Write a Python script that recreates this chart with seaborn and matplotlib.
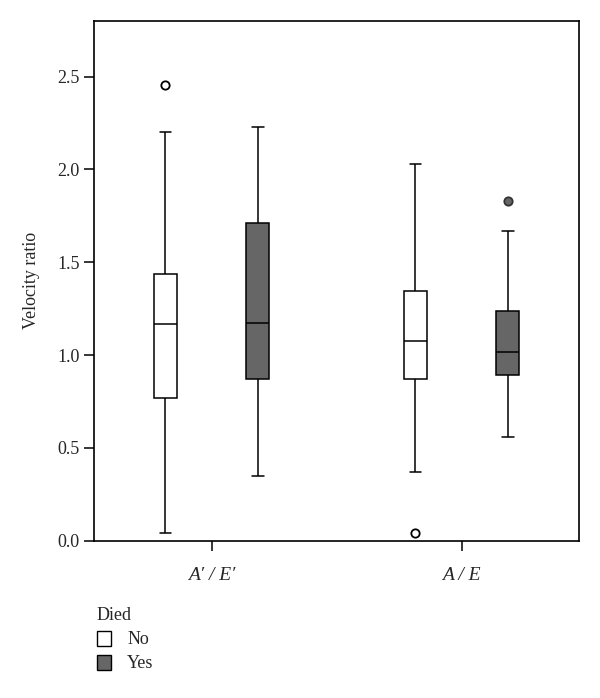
import numpy as np
import pandas as pd
import matplotlib
matplotlib.use("Agg")
import matplotlib.pyplot as plt
import seaborn as sns
from matplotlib.patches import Patch

# values (box summaries per group)
ratios = ["A\u2032/E\u2032", "A\u2032/E\u2032", "A/E", "A/E"]
died = ["No", "Yes", "No", "Yes"]
whis_lo = [0.04, 0.35, 0.37, 0.56]
q1 = [0.77, 0.87, 0.87, 0.89]
median = [1.165, 1.175, 1.075, 1.015]
q3 = [1.435, 1.71, 1.345, 1.235]
whis_hi = [2.20, 2.23, 2.03, 1.67]
outliers = [[2.455], [], [0.04], [1.83]]

# 9 values per group so the quartiles land on the read values exactly
rows = []
for i in range(4):
    vals = [whis_lo[i], q1[i], q1[i], median[i], median[i], q3[i], q3[i], whis_hi[i], whis_hi[i]]
    for o in outliers[i]:
        if o > whis_hi[i]:
            vals[-1] = o
        else:
            vals[0] = o
            vals[1] = whis_lo[i]
    for v in vals:
        rows.append({"ratio": ratios[i], "Died": died[i], "value": v})
df = pd.DataFrame(rows)

sns.set_style("white")
plt.rcParams["font.family"] = ["Liberation Serif", "DejaVu Serif"]

fig = plt.figure(figsize=(6, 6.98), dpi=100)
ax = fig.add_axes([0.157, 0.2254, 0.808, 0.7446])

pal = {"No": "white", "Yes": "#666666"}
sns.boxplot(data=df, x="ratio", y="value", hue="Died", order=["A\u2032/E\u2032", "A/E"],
            hue_order=["No", "Yes"], palette=pal, width=0.74, gap=0.75, ax=ax,
            linecolor="black", linewidth=1.1, legend=False,
            flierprops={"marker": "o", "markersize": 6, "markeredgecolor": "black",
                        "markeredgewidth": 1.3})

# open circles for No, filled grey for Yes
for ln in ax.lines:
    if ln.get_marker() == "o" and len(ln.get_xdata()) > 0:
        x = ln.get_xdata()[0]
        ln.set_markerfacecolor("white" if x - round(x) < 0 else "#666666")
        ln.set_markeredgecolor("black" if x - round(x) < 0 else "#333333")

ax.set_ylim(0, 2.8)
ax.set_xlim(-0.47, 1.47)
ax.set_yticks([0.0, 0.5, 1.0, 1.5, 2.0, 2.5])
ax.set_yticklabels(["0.0", "0.5", "1.0", "1.5", "2.0", "2.5"], fontsize=13)
ax.set_xticks([0, 1])
ax.set_xticklabels(["A\u2032 / E\u2032", "A / E"], fontsize=14, style="italic")
ax.set_xlabel("")
ax.set_ylabel("Velocity ratio", fontsize=13, labelpad=12)
ax.tick_params(axis="both", direction="out", length=7, width=1.1, color="black", left=True, bottom=True)
ax.tick_params(axis="x", pad=12)
for sp in ax.spines.values():
    sp.set_color("black")
    sp.set_linewidth(1.2)

handles = [Patch(facecolor="white", edgecolor="black", linewidth=1.0, label="No"),
           Patch(facecolor="#666666", edgecolor="black", linewidth=1.0, label="Yes")]
leg = fig.legend(handles=handles, title="Died", loc="upper left", bbox_to_anchor=(0.14, 0.148),
                 frameon=False, fontsize=13, title_fontsize=13, handlelength=0.8,
                 handleheight=0.9, handletextpad=0.9, labelspacing=0.35, alignment="left",
                 borderpad=0.2)

fig.savefig("out.png", dpi=100)
